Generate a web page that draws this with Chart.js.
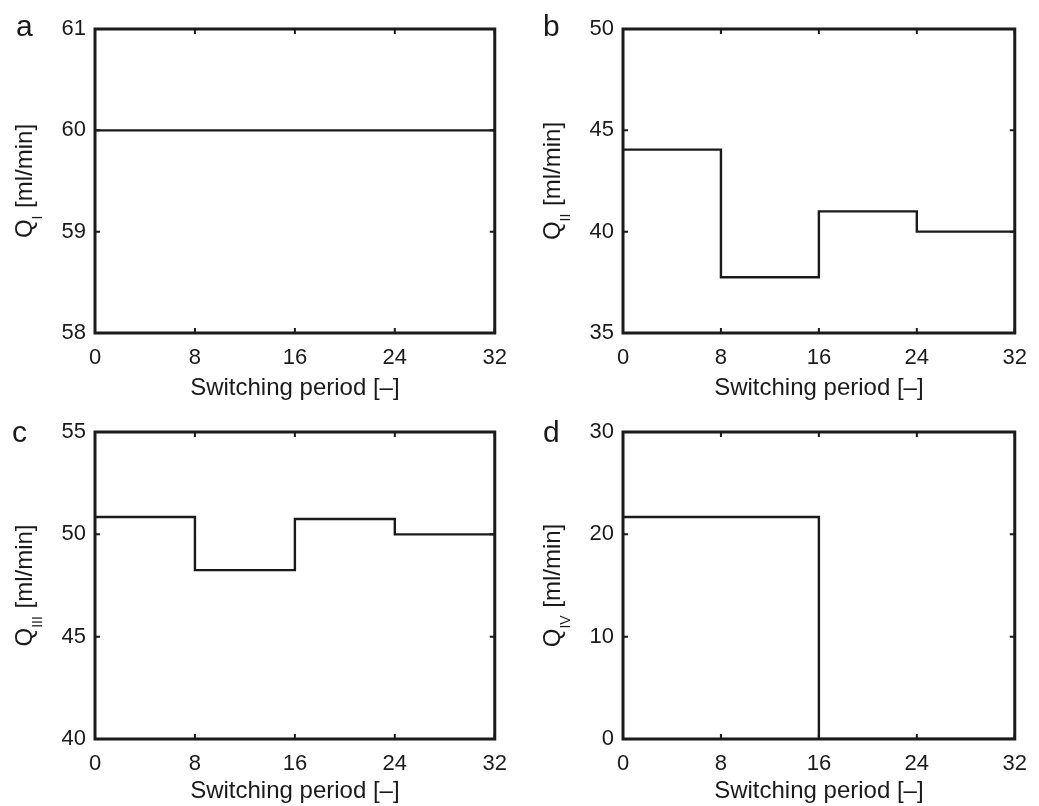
<!DOCTYPE html>
<html>
<head>
<meta charset="utf-8">
<script src="https://cdn.jsdelivr.net/npm/chart.js@4.4.1/dist/chart.umd.min.js"></script>
<style>
  html, body { margin: 0; padding: 0; background: #ffffff; }
  #wrap { position: relative; width: 1039px; height: 806px; overflow: hidden; background: #ffffff; }
  canvas { position: absolute; }
</style>
</head>
<body>
<div id="wrap">
  <canvas id="pa" width="519" height="406" style="left:0px;top:0px;width:519px;height:406px"></canvas>
  <canvas id="pb" width="520" height="406" style="left:519px;top:0px;width:520px;height:406px"></canvas>
  <canvas id="pc" width="519" height="406" style="left:0px;top:400px;width:519px;height:406px"></canvas>
  <canvas id="pd" width="520" height="406" style="left:519px;top:400px;width:520px;height:406px"></canvas>
</div>
<script>
// ---- data ----
const periods = [0, 8, 16, 24, 32];
const qI   = [60, 60, 60, 60, 60];
const qII  = [44.05, 37.75, 41.0, 40.0, 40.0];
const qIII = [50.85, 48.25, 50.75, 50.0, 50.0];
const qIV  = [21.7, 21.7, 0, 0, 0];

const xTickValues = [0, 8, 16, 24, 32];
const yTicksI   = [58, 59, 60, 61];
const yTicksII  = [35, 40, 45, 50];
const yTicksIII = [40, 45, 50, 55];
const yTicksIV  = [0, 10, 20, 30];

const panelLetters = ['a', 'b', 'c', 'd'];
const ySubscripts  = ['I', 'II', 'III', 'IV'];
const xTitle = 'Switching period [–]';
const yUnit  = ' [ml/min]';

// ---- styling ----
const INK = '#1a1a1a';
const FONT = "'Liberation Sans', Arial, Helvetica, sans-serif";

const frame = {
  id: 'frame',
  afterDraw(chart, args, o) {
    const {ctx, chartArea: ca, scales: {x, y}} = chart;
    ctx.save();
    ctx.strokeStyle = INK;
    ctx.fillStyle = INK;
    // inward ticks
    ctx.lineWidth = 2;
    const tl = 5;
    ctx.beginPath();
    x.ticks.forEach(t => {
      const px = x.getPixelForValue(t.value);
      ctx.moveTo(px, ca.bottom); ctx.lineTo(px, ca.bottom - tl);
      ctx.moveTo(px, ca.top); ctx.lineTo(px, ca.top + tl);
    });
    y.ticks.forEach(t => {
      const py = y.getPixelForValue(t.value);
      ctx.moveTo(ca.left, py); ctx.lineTo(ca.left + tl, py);
      ctx.moveTo(ca.right, py); ctx.lineTo(ca.right - tl, py);
    });
    ctx.stroke();
    // box
    ctx.lineWidth = 3;
    ctx.strokeRect(ca.left, ca.top, ca.right - ca.left, ca.bottom - ca.top);
    // y title with subscript
    ctx.save();
    ctx.translate(ca.left - 72, (ca.top + ca.bottom) / 2);
    ctx.rotate(-Math.PI / 2);
    ctx.textBaseline = 'alphabetic';
    ctx.textAlign = 'left';
    const mainFont = '24px ' + FONT, subFont = '14px ' + FONT;
    ctx.font = mainFont; const wQ = ctx.measureText('Q').width;
    const wRest = ctx.measureText(yUnit).width;
    ctx.font = subFont; const wSub = ctx.measureText(o.sub).width + 1;
    let sx = -(wQ + wSub + wRest) / 2;
    ctx.font = mainFont; ctx.fillText('Q', sx, 8.5); sx += wQ;
    ctx.font = subFont; ctx.fillText(o.sub, sx, 18.5); sx += wSub;
    ctx.font = mainFont; ctx.fillText(yUnit, sx, 8.5);
    ctx.restore();
    // panel letter
    ctx.font = '30px ' + FONT;
    ctx.textAlign = 'left';
    ctx.textBaseline = 'alphabetic';
    ctx.fillText(o.letter, o.lx, o.ly);
    ctx.restore();
  }
};

function makePanel(id, values, yTicks, idx, geo) {
  const pts = periods.map((p, i) => ({x: p, y: values[i]}));
  const ctx = document.getElementById(id);
  return new Chart(ctx, {
    type: 'line',
    data: { datasets: [{
      data: pts,
      stepped: true,
      borderColor: INK,
      borderWidth: 2.4,
      pointRadius: 0,
      fill: false,
      tension: 0
    }]},
    options: {
      responsive: false,
      animation: false,
      devicePixelRatio: 1,
      layout: { padding: { left: 0, top: geo.top, right: geo.w - geo.right, bottom: 0 } },
      plugins: {
        legend: { display: false },
        tooltip: { enabled: false },
        frame: { sub: ySubscripts[idx], letter: panelLetters[idx], lx: geo.lx, ly: geo.ly }
      },
      scales: {
        x: {
          type: 'linear',
          min: xTickValues[0],
          max: xTickValues[xTickValues.length - 1],
          afterBuildTicks: s => { s.ticks = xTickValues.map(v => ({value: v})); },
          ticks: { color: INK, font: { family: FONT, size: 22 }, padding: 12, maxRotation: 0 },
          grid: { display: false, drawTicks: false },
          border: { display: false },
          title: { display: true, text: xTitle, color: INK, font: { family: FONT, size: 24 },
                   padding: { top: 0, bottom: geo.tpad } },
          afterFit: s => { s.height = geo.h - geo.bottom; }
        },
        y: {
          type: 'linear',
          min: yTicks[0],
          max: yTicks[yTicks.length - 1],
          afterBuildTicks: s => { s.ticks = yTicks.map(v => ({value: v})); },
          ticks: { color: INK, font: { family: FONT, size: 22 }, padding: 9 },
          grid: { display: false, drawTicks: false },
          border: { display: false },
          afterFit: s => { s.width = geo.left; }
        }
      }
    },
    plugins: [frame]
  });
}

makePanel('pa', qI,   yTicksI,   0, {w: 519, h: 406, left: 95,  right: 496, top: 29, bottom: 333, tpad: 3, lx: 16, ly: 36});
makePanel('pb', qII,  yTicksII,  1, {w: 520, h: 406, left: 104, right: 504, top: 29, bottom: 333, tpad: 3, lx: 24, ly: 36});
makePanel('pc', qIII, yTicksIII, 2, {w: 519, h: 406, left: 95,  right: 496, top: 32, bottom: 339, tpad: 0, lx: 12, ly: 42});
makePanel('pd', qIV,  yTicksIV,  3, {w: 520, h: 406, left: 104, right: 505, top: 32, bottom: 339, tpad: 0, lx: 24, ly: 42});
</script>
</body>
</html>
